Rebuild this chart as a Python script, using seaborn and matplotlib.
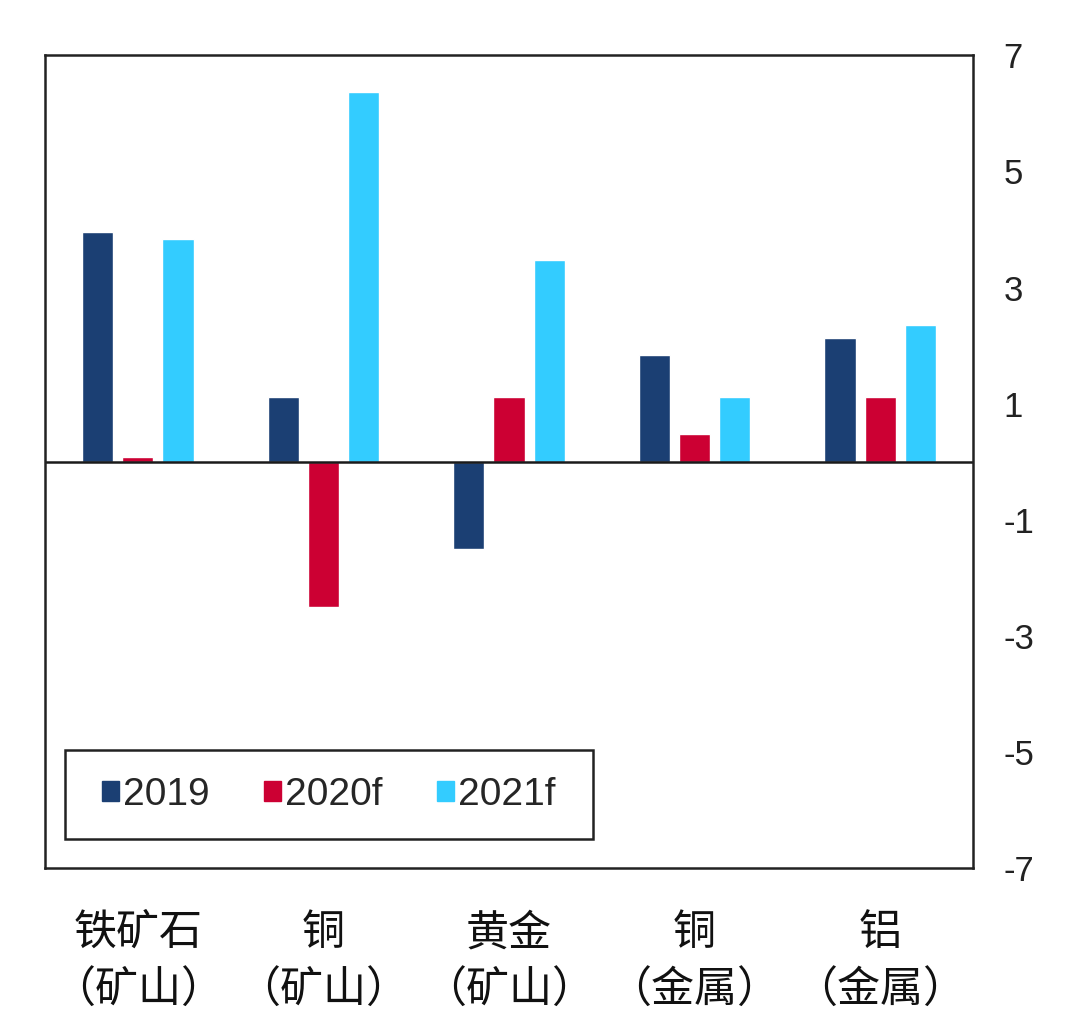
import pandas as pd
import matplotlib.pyplot as plt
import seaborn as sns
from matplotlib.patches import Rectangle

# Data
categories = ["铁矿石\n（矿山）", "铜\n（矿山）", "黄金\n（矿山）", "铜\n（金属）", "铝\n（金属）"]
years = ["2019", "2020f", "2021f"]
v2019 = [3.95, 1.12, -1.51, 1.83, 2.13]
v2020f = [0.08, -2.51, 1.12, 0.47, 1.12]
v2021f = [3.83, 6.37, 3.48, 1.12, 2.36]
y_ticks = [-7, -5, -3, -1, 1, 3, 5, 7]

colors = {"2019": "#1B3F73", "2020f": "#CC0033", "2021f": "#33CCFF"}

df = pd.DataFrame({
    "category": categories * 3,
    "year": [y for y in years for _ in categories],
    "value": v2019 + v2020f + v2021f,
})

sns.set_theme(style="white")
plt.rcParams["font.family"] = ["Liberation Sans", "Noto Sans CJK SC", "DejaVu Sans"]
plt.rcParams["axes.unicode_minus"] = False

fig = plt.figure(figsize=(10.8, 10.25), dpi=100)
ax = fig.add_axes([45 / 1080, 1 - 868 / 1025, 928 / 1080, 812.6 / 1025])

sns.barplot(data=df, x="category", y="value", hue="year", hue_order=years,
            palette=colors, saturation=1, width=0.65, gap=0.22, ax=ax,
            order=categories)

ax.axhline(0, color="#1a1a1a", lw=1.8)

ax.set_ylim(-7, 7)
ax.set_yticks(y_ticks)
ax.yaxis.tick_right()
ax.tick_params(axis="y", length=0, pad=22, labelsize=25, labelcolor="#222222")
ax.tick_params(axis="x", length=0, pad=31)
ax.set_xlabel("")
ax.set_ylabel("")

for lbl in ax.get_xticklabels():
    lbl.set_fontfamily(["Noto Sans CJK SC", "DejaVu Sans"])
    lbl.set_fontsize(31)
    lbl.set_linespacing(1.4)
    lbl.set_color("#111111")

for s in ax.spines.values():
    s.set_visible(True)
    s.set_color("#222222")
    s.set_linewidth(1.8)

# Legend with a hand-drawn frame like the reference
ax.get_legend().remove()
x0, y0, x1, y1 = 0.0216, 0.0357, 0.5905, 0.1452
ax.add_patch(Rectangle((x0, y0), x1 - x0, y1 - y0, transform=ax.transAxes,
                       fill=False, edgecolor="#222222", lw=1.8, zorder=5))
handles = [Rectangle((0, 0), 1, 1, color=colors[y]) for y in years]
ax.legend(handles, years, loc="center", bbox_to_anchor=((x0 + x1) / 2, (y0 + y1) / 2),
          ncol=3, frameon=False, fontsize=28, handlelength=0.42, handleheight=0.42,
          handletextpad=0.12, columnspacing=1.4, borderaxespad=0)

fig.savefig("out.png", dpi=100)
